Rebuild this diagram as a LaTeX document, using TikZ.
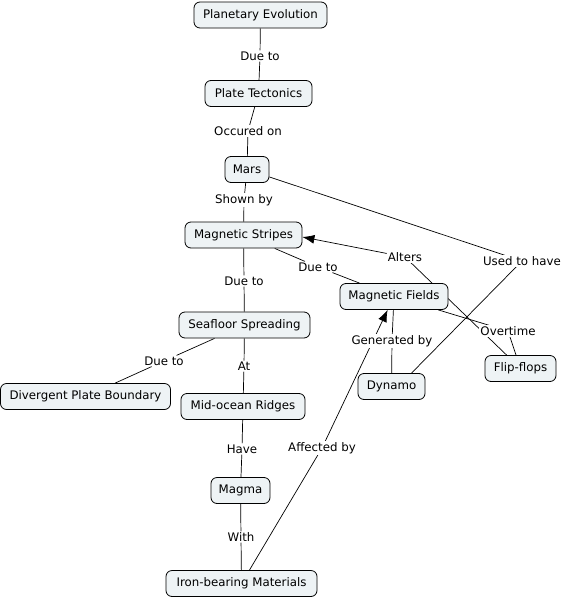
\documentclass[tikz,border=0pt]{standalone}
\usepackage{fontspec}
\setmainfont{DejaVu Sans}
\usetikzlibrary{arrows.meta,backgrounds}
\definecolor{boxfill}{HTML}{EEF3F5}
\begin{document}
\begin{tikzpicture}[x=1pt,y=-1pt,
  concept/.style={draw=black,line width=0.8pt,fill=boxfill,rounded corners=6pt,
    minimum height=26pt,inner xsep=4pt,font=\fontsize{11.8}{13}\selectfont},
  lab/.style={fill=white,inner sep=1pt,font=\fontsize{11.8}{13}\selectfont},
  link/.style={draw=black,line width=0.7pt},
  arr/.style={link,-{Latex[length=12pt,width=9pt]}}]
\useasboundingbox (0,0) rectangle (566,600);
% concepts
\node[concept,minimum width=133pt] (pe) at (260.5,15) {Planetary Evolution};
\node[concept,minimum width=107pt] (pt) at (258.5,93.5) {Plate Tectonics};
\node[concept,minimum width=44pt] (mars) at (247,169.5) {Mars};
\node[concept,minimum width=117pt] (ms) at (243.5,235) {Magnetic Stripes};
\node[concept,minimum width=108pt] (mf) at (394,296.5) {Magnetic Fields};
\node[concept,minimum width=131pt] (sf) at (244.5,325) {Seafloor Spreading};
\node[concept,minimum width=170pt] (dpb) at (85.5,396.5) {Divergent Plate Boundary};
\node[concept,minimum width=124pt] (mor) at (243,406.5) {Mid-ocean Ridges};
\node[concept,minimum width=67pt] (dyn) at (391.5,386.5) {Dynamo};
\node[concept,minimum width=71pt] (ff) at (520.5,368.5) {Flip-flops};
\node[concept,minimum width=59pt] (mag) at (240.5,490.5) {Magma};
\node[concept,minimum width=151pt] (iron) at (241.5,583.5) {Iron-bearing Materials};
% link labels
\node[lab] (l1) at (260,56) {Due to};
\node[lab] (l2) at (248,131) {Occured on};
\node[lab] (l3) at (244,200) {Shown by};
\node[lab] (l4) at (522,261) {Used to have};
\node[lab] (l5) at (405,257) {Alters};
\node[lab] (l6) at (318,267) {Due to};
\node[lab] (l7) at (244,281) {Due to};
\node[lab] (l8) at (508,331) {Overtime};
\node[lab] (l9) at (392,341) {Generated by};
\node[lab] (l10) at (164,361) {Due to};
\node[lab] (l11) at (244,366) {At};
\node[lab] (l12) at (242,449) {Have};
\node[lab] (l13) at (322,448) {Affected by};
\node[lab] (l14) at (241,537) {With};
\begin{scope}[on background layer]
\draw[link] (pe) -- (l1) -- (pt);
\draw[link] (pt) -- (l2) -- (mars);
\draw[link] (mars) -- (l3) -- (ms);
\draw[link] (mars) -- (l4);
\draw[link] (l4) -- ([xshift=20pt]dyn.north);
\draw[link] (ff) -- (l5);
\draw[arr] (l5) -- ([yshift=-2pt]ms.east);
\draw[link] (ms) -- (l6) -- (mf);
\draw[link] (ms) -- (l7) -- (sf);
\draw[link] (mf) -- (l8) -- (ff);
\draw[link] (mf) -- (l9) -- (dyn);
\draw[link] (sf) -- (l10) -- (dpb);
\draw[link] (sf) -- (l11) -- (mor);
\draw[link] (mor) -- (l12) -- (mag);
\draw[link] (iron) -- (l13);
\draw[arr] (l13) -- (mf);
\draw[link] (mag) -- (l14) -- (iron);
\end{scope}
\end{tikzpicture}
\end{document}
